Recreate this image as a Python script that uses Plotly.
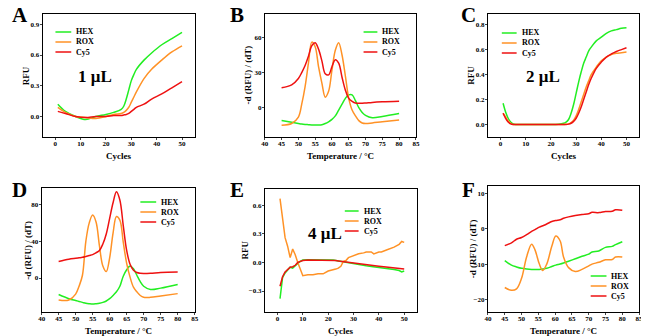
import plotly.graph_objects as go

# page body has an 8px margin, so the figure is drawn 8px in from the window corner
OFF = 8
W, H = 649 - OFF, 336 - OFF
FONT = "Liberation Serif"
C_HEX, C_ROX, C_CY5 = "#22EE22", "#FF9226", "#EE1111"
NAMES = ["HEX", "ROX", "Cy5"]

# ---- A: 1 uL amplification ----
a_cyc = [1, 4, 8, 12, 16, 20, 23, 26, 27, 28, 29, 30, 31, 32, 35, 38, 42, 46, 50]
a_hex = [0.12, 0.05, 0.0, -0.03, 0.0, 0.02, 0.04, 0.07, 0.10, 0.17, 0.26, 0.35, 0.41, 0.46, 0.55, 0.62, 0.70, 0.76, 0.82]
a_rox = [0.09, 0.04, 0.0, -0.01, -0.02, 0.0, 0.02, 0.03, 0.04, 0.06, 0.09, 0.14, 0.19, 0.24, 0.37, 0.46, 0.55, 0.63, 0.69]
a_cy5 = [0.05, 0.03, 0.0, -0.01, 0.0, 0.0, 0.01, 0.01, 0.015, 0.02, 0.03, 0.05, 0.07, 0.09, 0.12, 0.17, 0.22, 0.28, 0.34]

# ---- B: melt curve ----
b_t = [45, 48, 50, 51, 52, 53, 54, 55, 56, 57, 58, 59, 60, 61, 62, 63, 64, 65, 66, 67, 68, 69, 70, 72, 75, 80]
b_hex = [-11, -12.5, -13.5, -14, -14.3, -14.5, -14.7, -14.8, -14.8, -14.5, -13.5, -12, -10, -7, -2, 3, 8, 11, 11, 6, 0, -4, -6.5, -8.5, -7.5, -5]
b_rox = [-15, -13.5, -8, 3, 18, 38, 56, 52, 35, 21, 9, 14, 32, 49, 55.5, 45, 27, 8, -2, -7, -11, -13, -13.5, -13, -12, -10.5]
b_cy5 = [17, 19.5, 25, 30, 36, 44, 53, 55.5, 50, 40, 29, 28, 35, 41, 38, 26, 15, 8, 5.5, 4, 3.8, 3.8, 4, 4.5, 5, 5.5]

# ---- C: 2 uL amplification ----
c_cyc = [1, 2, 3, 4, 5, 6, 10, 15, 20, 23, 25, 26, 27, 28, 29, 30, 31, 32, 33, 34, 35, 36, 38, 40, 42, 44, 46, 48, 50]
c_hex = [0.17, 0.10, 0.05, 0.02, 0.005, 0.0, 0.0, 0.0, 0.0, 0.003, 0.01, 0.02, 0.04, 0.09, 0.16, 0.25, 0.34, 0.42, 0.49, 0.54, 0.59, 0.62, 0.67, 0.70, 0.73, 0.75, 0.76, 0.77, 0.775]
c_rox = [0.09, 0.06, 0.03, 0.01, 0.0, 0.0, 0.0, 0.0, 0.0, 0.0, 0.0, 0.002, 0.005, 0.015, 0.035, 0.07, 0.12, 0.18, 0.24, 0.30, 0.35, 0.40, 0.46, 0.51, 0.54, 0.56, 0.57, 0.575, 0.58]
c_cy5 = [0.09, 0.05, 0.02, 0.005, 0.0, 0.0, 0.0, 0.0, 0.0, 0.0, 0.0, 0.0, 0.003, 0.01, 0.025, 0.05, 0.09, 0.14, 0.20, 0.26, 0.32, 0.37, 0.45, 0.50, 0.54, 0.565, 0.585, 0.60, 0.615]

# ---- D: melt curve ----
d_t = [45, 48, 50, 51, 52, 53, 54, 55, 56, 57, 58, 59, 60, 61, 62, 63, 64, 65, 66, 67, 68, 69, 70, 72, 75, 80]
d_hex = [-18, -22.5, -24.5, -25.5, -26.5, -27.5, -28, -28.3, -28, -27.5, -26.5, -25, -22.5, -19, -15, -9, 2, 9, 13, 10, 3, -4, -9, -12.5, -11, -7]
d_rox = [-24, -24, -17.5, -9, 3, 40, 60, 68.5, 61, 35, 13, 7, 22, 49, 67, 63, 39, 16, 1, -10, -15, -19, -21, -21, -19.5, -17]
d_cy5 = [18, 20.5, 21.5, 22, 22.5, 23.5, 24.5, 25.5, 27.5, 30, 37, 48, 65, 82, 94, 85, 57, 30, 15, 8.5, 6, 5.2, 5, 5.2, 6, 6.5]

# ---- E: 4 uL amplification ----
e_cyc = [1, 2, 3, 4, 5, 6, 7, 8, 9, 10, 12, 14, 16, 18, 20, 22, 23, 24, 25, 26, 27, 28, 30, 32, 34, 35, 37, 38, 40, 41, 43, 44, 46, 48, 49, 50]
e_hex = [-0.38, -0.16, -0.11, -0.08, -0.05, -0.06, -0.03, -0.01, 0.01, 0.025, 0.028, 0.028, 0.028, 0.028, 0.027, 0.025, 0.02, 0.015, 0.01, 0.007, 0.003, 0.0, -0.008, -0.02, -0.03, -0.035, -0.042, -0.045, -0.05, -0.055, -0.06, -0.065, -0.075, -0.085, -0.1, -0.09]
e_rox = [0.67, 0.44, 0.26, 0.17, 0.05, 0.14, 0.08, 0.0, -0.08, -0.14, -0.13, -0.13, -0.12, -0.12, -0.09, -0.08, -0.07, -0.06, -0.04, 0.01, 0.02, 0.05, 0.07, 0.09, 0.10, 0.11, 0.11, 0.09, 0.11, 0.11, 0.13, 0.14, 0.16, 0.19, 0.22, 0.21]
e_cy5 = [-0.25, -0.15, -0.1, -0.07, -0.05, -0.045, -0.03, 0.0, 0.012, 0.02, 0.025, 0.025, 0.025, 0.025, 0.024, 0.022, 0.02, 0.016, 0.012, 0.008, 0.005, 0.002, -0.005, -0.015, -0.02, -0.024, -0.03, -0.034, -0.04, -0.043, -0.048, -0.05, -0.056, -0.063, -0.067, -0.07]

# ---- F: melt curve ----
f_t = [45, 47, 48.5, 50, 51.5, 53, 54, 55.3, 56.3, 57.5, 59, 60.2, 61.5, 62.5, 64, 66, 68, 70, 71, 73, 75, 77, 78, 80]
f_hex = [-9, -10.3, -10.8, -11.2, -11.4, -11.5, -11.5, -11.5, -11.4, -11.2, -10.7, -10.3, -10.0, -9.7, -9.2, -8.5, -7.8, -7.2, -6.6, -6.3, -5.3, -5.0, -4.5, -3.7]
f_rox = [-16.6, -17.4, -17, -14, -8, -4.4, -6, -10, -11.8, -10, -5, -2.1, -3.5, -8, -11, -12.1, -11.5, -10.5, -10, -9.5, -8.8, -8.7, -8.0, -8.0]
f_cy5 = [-4.8, -4, -3, -2.5, -1.7, -0.8, -0.3, 0.4, 0.8, 1.3, 2.0, 2.3, 2.5, 2.9, 3.3, 3.7, 4.0, 4.2, 4.6, 4.5, 4.8, 4.9, 5.3, 5.2]

panels = [
    # label, x, series, box(l,t,r,b px), xrange, yrange, xticks, yticks, ytickfmt, ytitle, xtitle, ytitle x
    ("A", a_cyc, (a_hex, a_rox, a_cy5), (39, 14, 193, 137), [-5, 55], [-0.2, 1.0],
     [0, 10, 20, 30, 40, 50], [0.0, 0.3, 0.6, 0.9], ".1f", "RFU", "Cycles", 22),
    ("B", b_t, (b_hex, b_rox, b_cy5), (264, 14, 417, 137), [40, 85], [-25, 80],
     list(range(40, 90, 5)), [0, 30, 60], "d", "-d (RFU) / (dT)", "Temperature / \u00b0C", 246),
    ("C", c_cyc, (c_hex, c_rox, c_cy5), (490, 14, 643, 137), [-5, 55], [-0.1, 0.885],
     [0, 10, 20, 30, 40, 50], [0.0, 0.2, 0.4, 0.6, 0.8], ".1f", "RFU", "Cycles", 472),
    ("D", d_t, (d_hex, d_rox, d_cy5), (38, 188, 193, 312), [40, 85], [-37, 98],
     list(range(40, 90, 5)), [0, 40, 80], "d", "-d (RFU) / (dT)", "Temperature / \u00b0C", 24),
    ("E", e_cyc, (e_hex, e_rox, e_cy5), (264, 189, 418, 312), [-5, 55], [-0.52, 0.77],
     [0, 10, 20, 30, 40, 50], [-0.3, 0.0, 0.3, 0.6], ".1f", "RFU", "Cycles", 243),
    ("F", f_t, (f_hex, f_rox, f_cy5), (490, 186, 643, 312), [40, 85], [-23.5, 12],
     list(range(40, 90, 5)), [-20, -10, 0, 10], "d", "-d (RFU) / (dT)", "Temperature / \u00b0C", 475),
]

legend_pos = {  # line x0, x1, text x, row y (px)
    "A": (52, 68, 71, [32, 42, 52]),
    "B": (364, 378, 381, [32, 42, 52]),
    "C": (504, 519, 522, [33, 43, 53]),
    "D": (138, 154, 157, [202, 212, 222]),
    "E": (345, 359, 362, [211, 221, 231]),
    "F": (594, 610, 613, [276, 286, 296]),
}
volume_text = {"A": ("1 \u03bcL", 92, 77), "C": ("2 \u03bcL", 546, 77), "E": ("4 \u03bcL", 325, 234)}
label_pos = {"A": (16, 15), "B": (236, 15), "C": (470, 15), "D": (16, 190), "E": (236, 190), "F": (470, 190)}


def px(x):
    return (x - OFF) / W


def py(y):
    return 1 - (y - OFF) / H


def note(x, y, text, size, xanchor="center", angle=0):
    return dict(x=px(x), y=py(y), xref="paper", yref="paper", text="<b>%s</b>" % text,
                showarrow=False, xanchor=xanchor, yanchor="middle", textangle=angle,
                font=dict(family=FONT, size=size, color="black"))


fig = go.Figure()
shapes, annots = [], []
colors = [C_HEX, C_ROX, C_CY5]

for i, (lab, xs, ser, box, xr, yr, xt, yt, yfmt, ytitle, xtitle, ytx) in enumerate(panels):
    n = "" if i == 0 else str(i + 1)
    l, t, r, b = box
    shape = "linear" if lab == "E" else "spline"
    for name, ys, col in zip(NAMES, ser, colors):
        fig.add_trace(go.Scatter(x=xs, y=ys, mode="lines", name=name, showlegend=False,
                                 line=dict(color=col, width=1.5, shape=shape),
                                 xaxis="x" + n, yaxis="y" + n))
    tickfont = dict(family=FONT, size=7, color="black", weight="bold")
    common = dict(ticks="outside", ticklen=2, tickwidth=1, showline=True, linecolor="black",
                  linewidth=1, mirror=True, showgrid=False, zeroline=False, tickfont=tickfont)
    fig.layout["xaxis" + n] = dict(domain=[px(l), px(r)], range=xr, anchor="y" + n,
                                   tickvals=xt, ticklabelstandoff=-2, **common)
    fig.layout["yaxis" + n] = dict(domain=[py(b), py(t)], range=yr, anchor="x" + n,
                                   tickvals=yt, tickformat=yfmt, ticklabelstandoff=-1, **common)
    annots.append(note((l + r) / 2, b + 19, xtitle, 9))
    annots.append(note(ytx, (t + b) / 2, ytitle, 9, angle=-90))
    lx, ly = label_pos[lab]
    annots.append(note(lx, ly, lab, 21))
    x0, x1, tx, rows = legend_pos[lab]
    for name, col, yy in zip(NAMES, colors, rows):
        shapes.append(dict(type="line", xref="paper", yref="paper", x0=px(x0), x1=px(x1),
                           y0=py(yy), y1=py(yy), line=dict(color=col, width=1.5)))
        annots.append(note(tx, yy, name, 8, xanchor="left"))
    if lab in volume_text:
        txt, vx, vy = volume_text[lab]
        annots.append(note(vx, vy, txt, 17))

fig.update_layout(width=W, height=H, margin=dict(l=0, r=0, t=0, b=0),
                  paper_bgcolor="white", plot_bgcolor="white",
                  shapes=shapes, annotations=annots, showlegend=False)
fig.write_html("out.html")
